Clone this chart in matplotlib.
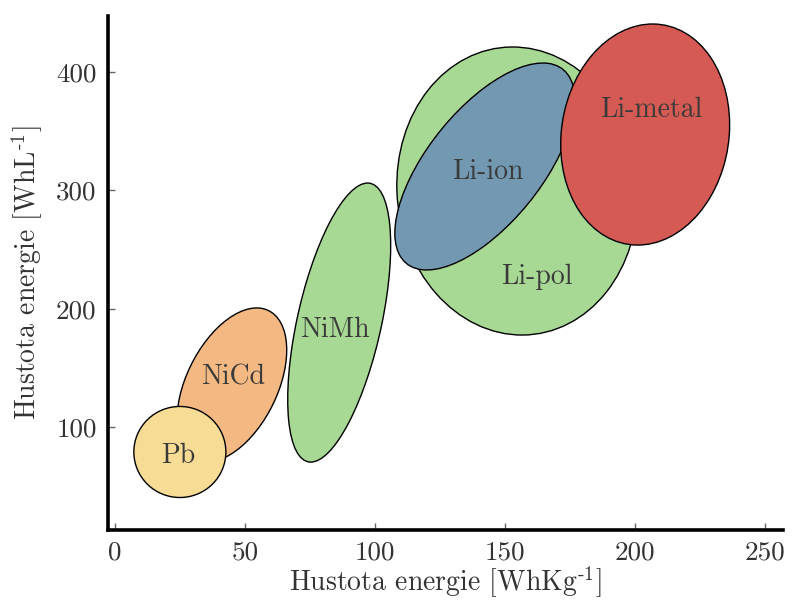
import matplotlib
matplotlib.use("Agg")
import matplotlib.pyplot as plt
from matplotlib.patches import Ellipse

plt.rcParams['font.family'] = 'cmr10'
plt.rcParams['mathtext.fontset'] = 'cm'
plt.rcParams['axes.unicode_minus'] = False
plt.rcParams['axes.formatter.use_mathtext'] = True

# battery technologies: energy density regions (ellipses in data units)
names = ['NiCd', 'Pb', 'NiMh', 'Li-pol', 'Li-ion', 'Li-metal']
center_x = [45.0, 25.0, 86.3, 154.8, 142.3, 204.0]     # Wh/kg
center_y = [135.6, 79.0, 188.3, 299.4, 320.1, 347.1]   # Wh/L
widths = [131.6, 35.4, 236.7, 243.3, 180.9, 186.8]
heights = [37.2, 76.9, 32.9, 92.6, 51.1, 64.7]
angles = [80.9, 0.0, 84.6, 91.0, 74.4, 88.0]
colors = ['#F4B983', '#F7DC96', '#A7D995', '#A7D995', '#7298B2', '#D55A53']

# label positions
label_x = [45.4, 24.2, 84.6, 162.3, 143.5, 206.5]
label_y = [142.3, 75.6, 182.0, 226.8, 315.5, 367.8]

xticks = [0, 50, 100, 150, 200, 250]
yticks = [100, 200, 300, 400]

fig = plt.figure(figsize=(7.93, 6.04), dpi=100)
ax = fig.add_axes([0.136, 0.1225, 0.851, 0.851])

for i in range(len(names)):
    e = Ellipse((center_x[i], center_y[i]), widths[i], heights[i], angle=angles[i],
                facecolor=colors[i], edgecolor='black', linewidth=1.0, zorder=2 + i)
    ax.add_patch(e)
    ax.text(label_x[i], label_y[i], names[i], ha='center', va='center',
            fontsize=20, color='#3a3a3a', zorder=20)

ax.set_xlim(-2.7, 256.9)
ax.set_ylim(13.1, 447.2)
ax.set_xticks(xticks)
ax.set_yticks(yticks)
ax.set_xticklabels([str(t) for t in xticks])
ax.set_yticklabels([str(t) for t in yticks])

for side in ['top', 'right']:
    ax.spines[side].set_visible(False)
for side in ['left', 'bottom']:
    ax.spines[side].set_linewidth(2.6)

ax.tick_params(direction='in', length=5, width=1, color='#666666',
               labelsize=19.5, labelcolor='#333333', pad=8)

ax.set_xlabel('Hustota energie [WhKg$^{\\text{-}1}$]', fontsize=20, color='#333333', labelpad=0)
ax.set_ylabel('Hustota energie [WhL$^{\\text{-}1}$]', fontsize=20, color='#333333', labelpad=8)

fig.savefig('out.png', dpi=100)
